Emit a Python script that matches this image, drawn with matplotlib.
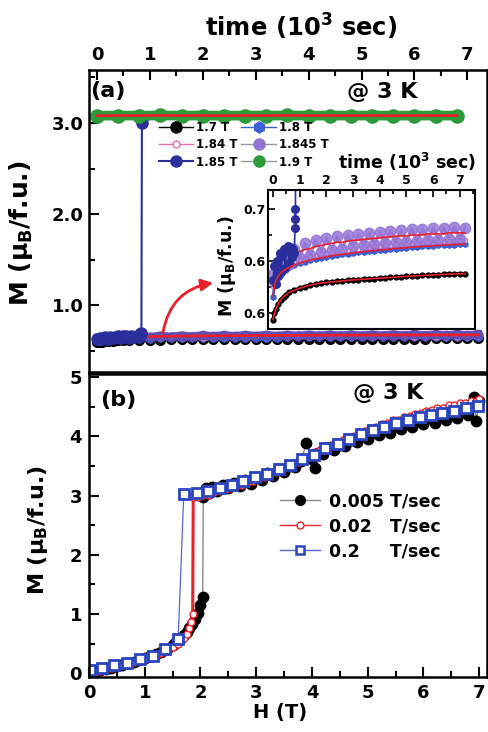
import matplotlib.pyplot as plt
from matplotlib.ticker import MultipleLocator, FormatStrFormatter
from matplotlib.lines import Line2D

plt.rcParams['font.family'] = ['DejaVu Sans']
plt.rcParams['font.weight'] = 'bold'
plt.rcParams['axes.labelweight'] = 'bold'
plt.rcParams['mathtext.default'] = 'bf'

# ---- panel (a): M vs time at fixed fields (time in 10^3 s) ----
t_long = [0, 0.05, 0.1, 0.2, 0.3, 0.4, 0.5, 0.6, 0.8, 1.0, 1.2, 1.4, 1.6, 1.8, 2.0,
          2.2, 2.4, 2.6, 2.8, 3.0, 3.2, 3.4, 3.6, 3.8, 4.0, 4.2, 4.4, 4.6, 4.8, 5.0,
          5.2, 5.4, 5.6, 5.8, 6.0, 6.2, 6.4, 6.6, 6.8, 7.0, 7.2]
m_17 = [0.594, 0.600, 0.604, 0.609, 0.613, 0.616, 0.618, 0.620, 0.622, 0.624, 0.6255,
        0.627, 0.628, 0.629, 0.6295, 0.630, 0.6305, 0.631, 0.6315, 0.632, 0.6323, 0.6326,
        0.633, 0.6333, 0.6336, 0.634, 0.6343, 0.6346, 0.635, 0.6353, 0.6356, 0.6359,
        0.6362, 0.6365, 0.6367, 0.637, 0.6372, 0.6374, 0.6376, 0.6378, 0.638]
m_18 = [0.616, 0.626, 0.631, 0.636, 0.639, 0.641, 0.6425, 0.644, 0.646, 0.648, 0.6495,
        0.651, 0.652, 0.653, 0.654, 0.655, 0.6557, 0.6564, 0.657, 0.6577, 0.6583, 0.659,
        0.6595, 0.660, 0.6605, 0.661, 0.6615, 0.662, 0.6624, 0.6628, 0.6632, 0.6636,
        0.664, 0.6643, 0.6646, 0.6649, 0.6652, 0.6655, 0.6658, 0.666, 0.6662]
m_184 = [0.626, 0.633, 0.636, 0.640, 0.643, 0.645, 0.647, 0.648, 0.650, 0.652, 0.653,
         0.655, 0.656, 0.657, 0.658, 0.659, 0.6595, 0.660, 0.661, 0.6615, 0.662, 0.663,
         0.6635, 0.664, 0.6645, 0.665, 0.6655, 0.666, 0.6664, 0.6668, 0.6672, 0.6676,
         0.668, 0.6683, 0.6686, 0.6689, 0.6692, 0.6695, 0.6698, 0.670, 0.6702]
m_1845 = [0.638, 0.631, 0.646, 0.638, 0.653, 0.643, 0.657, 0.647, 0.662, 0.653, 0.667,
          0.656, 0.670, 0.659, 0.672, 0.661, 0.674, 0.662, 0.675, 0.664, 0.676, 0.665,
          0.677, 0.666, 0.678, 0.667, 0.679, 0.668, 0.680, 0.668, 0.681, 0.669, 0.681,
          0.670, 0.682, 0.670, 0.682, 0.671, 0.683, 0.671, 0.682]
t_fit = [1.0, 1.2, 1.4, 1.6, 1.8, 2.0, 2.2, 2.4, 2.6, 2.8, 3.0, 3.2, 3.4, 3.6, 3.8, 4.0,
         4.2, 4.4, 4.6, 4.8, 5.0, 5.2, 5.4, 5.6, 5.8, 6.0, 6.2, 6.4, 6.6, 6.8, 7.0, 7.2]
fit_1845 = [0.659, 0.661, 0.662, 0.664, 0.665, 0.666, 0.667, 0.668, 0.668, 0.669, 0.670,
            0.670, 0.671, 0.671, 0.672, 0.672, 0.673, 0.673, 0.674, 0.674, 0.674, 0.675,
            0.675, 0.675, 0.676, 0.676, 0.676, 0.676, 0.677, 0.677, 0.677, 0.677]
t_185 = [0, 0.05, 0.1, 0.15, 0.2, 0.25, 0.3, 0.35, 0.4, 0.45, 0.5, 0.55, 0.6, 0.65, 0.7,
         0.75, 0.8, 0.82, 0.83, 0.84, 0.85, 1.0, 1.5, 2.0, 2.5, 3.0, 3.5, 4.0, 4.5, 5.0,
         5.5, 6.0, 6.5, 6.8]
m_185 = [0.632, 0.645, 0.628, 0.650, 0.636, 0.658, 0.640, 0.655, 0.662, 0.643, 0.660,
         0.664, 0.648, 0.663, 0.654, 0.662, 0.658, 0.682, 0.700, 0.690, 3.00, 3.045, 3.05,
         3.05, 3.05, 3.05, 3.05, 3.05, 3.05, 3.05, 3.05, 3.05, 3.05, 3.05]
t_19 = [0, 0.4, 0.8, 1.2, 1.6, 2.0, 2.4, 2.8, 3.2, 3.6, 4.0, 4.4, 4.8, 5.2, 5.6, 6.0, 6.4, 6.8]
m_19 = [3.079, 3.081, 3.080, 3.082, 3.080, 3.081, 3.079, 3.081, 3.080, 3.082, 3.080,
        3.081, 3.080, 3.081, 3.079, 3.081, 3.080, 3.081]

# ---- panel (b): M vs H for three sweep rates ----
h_blk = [0.0, 0.1, 0.2, 0.3, 0.4, 0.5, 0.6, 0.7, 0.8, 0.9, 1.0, 1.1, 1.2, 1.3, 1.4, 1.5,
         1.55, 1.6, 1.65, 1.7, 1.75, 1.8, 1.85, 1.9, 1.95, 2.0, 2.04,
         2.05, 2.1, 2.15, 2.2, 2.3, 2.4, 2.5, 2.6, 2.7, 2.8, 2.9, 3.0, 3.1, 3.2, 3.3, 3.4,
         3.5, 3.6, 3.7, 3.8, 3.9, 4.0, 4.05, 4.1, 4.2, 4.3, 4.4, 4.5, 4.6, 4.7, 4.8, 4.9,
         5.0, 5.1, 5.2, 5.3, 5.4, 5.5, 5.6, 5.7, 5.8, 5.9, 6.0, 6.1, 6.2, 6.3, 6.4, 6.5,
         6.6, 6.7, 6.8, 6.9, 6.95, 7.0]
m_blk = [0.0, 0.03, 0.05, 0.08, 0.10, 0.12, 0.15, 0.18, 0.20, 0.23, 0.26, 0.29, 0.32,
         0.36, 0.41, 0.48, 0.52, 0.56, 0.60, 0.65, 0.70, 0.77, 0.84, 0.92, 1.02, 1.16, 1.29,
         2.98, 3.12, 3.05, 3.14, 3.08, 3.18, 3.12, 3.22, 3.16, 3.27, 3.20, 3.32, 3.26, 3.38,
         3.33, 3.44, 3.40, 3.50, 3.48, 3.58, 3.88, 3.62, 3.46, 3.72, 3.70, 3.80, 3.76, 3.86,
         3.84, 3.93, 3.90, 4.00, 3.96, 4.08, 4.02, 4.12, 4.06, 4.18, 4.12, 4.22, 4.16, 4.26,
         4.20, 4.30, 4.22, 4.34, 4.28, 4.40, 4.30, 4.46, 4.36, 4.66, 4.26, 4.60]
h_red = [0.0, 0.1, 0.2, 0.3, 0.4, 0.5, 0.6, 0.7, 0.8, 0.9, 1.0, 1.1, 1.2, 1.3, 1.4, 1.5,
         1.6, 1.65, 1.7, 1.75, 1.8, 1.83, 1.86,
         1.87, 1.95, 2.05, 2.15, 2.25, 2.35, 2.45, 2.55, 2.65, 2.75, 2.85, 2.95, 3.05, 3.15,
         3.25, 3.35, 3.45, 3.55, 3.65, 3.75, 3.85, 3.95, 4.05, 4.15, 4.25, 4.35, 4.45, 4.55,
         4.65, 4.75, 4.85, 4.95, 5.05, 5.15, 5.25, 5.35, 5.45, 5.55, 5.65, 5.75, 5.85, 5.95,
         6.05, 6.15, 6.25, 6.35, 6.45, 6.55, 6.65, 6.75, 6.85, 6.95, 7.0]
m_red = [0.0, 0.02, 0.04, 0.07, 0.09, 0.12, 0.14, 0.17, 0.19, 0.22, 0.24, 0.27, 0.30,
         0.34, 0.38, 0.44, 0.50, 0.54, 0.60, 0.67, 0.76, 0.86, 1.00,
         2.97, 2.98, 3.01, 3.01, 3.06, 3.07, 3.11, 3.12, 3.17, 3.18, 3.23, 3.25, 3.30, 3.32,
         3.38, 3.40, 3.46, 3.48, 3.54, 3.57, 3.64, 3.67, 3.74, 3.77, 3.83, 3.85, 3.91, 3.93,
         3.99, 4.01, 4.07, 4.09, 4.14, 4.15, 4.21, 4.22, 4.27, 4.28, 4.33, 4.34, 4.38, 4.39,
         4.43, 4.44, 4.48, 4.48, 4.52, 4.52, 4.56, 4.56, 4.60, 4.60, 4.62]
h_blu = [0.02, 0.23, 0.45, 0.68, 0.91, 1.14, 1.36, 1.60, 1.70, 1.93, 2.14, 2.35, 2.56,
         2.77, 2.98, 3.19, 3.40, 3.61, 3.82, 4.03, 4.24, 4.46, 4.67, 4.88, 5.09, 5.30, 5.51,
         5.72, 5.93, 6.14, 6.34, 6.55, 6.76, 6.97]
m_blu = [0.05, 0.09, 0.14, 0.18, 0.24, 0.30, 0.42, 0.58, 3.02, 3.04, 3.08, 3.12, 3.18,
         3.24, 3.31, 3.37, 3.44, 3.51, 3.61, 3.68, 3.80, 3.87, 3.95, 4.04, 4.10, 4.16, 4.22,
         4.27, 4.32, 4.36, 4.39, 4.43, 4.47, 4.51]
rate_labels = ['0.005 T/sec', '0.02   T/sec', '0.2     T/sec']

C18, C184, C1845, C185, C19 = '#3a5fd6', '#e070b0', '#9474d6', '#2b2f9c', '#2e9b3a'
CFIT = '#e8202a'
CRED, CBLU = '#e8242a', '#2a44c0'
ylab = 'M (μ$_B$/f.u.)'

fig = plt.figure(figsize=(4.88, 7.32), dpi=100)


def box(l, t, r, b):
    return [l / 488, 1 - b / 732, (r - l) / 488, (b - t) / 732]


axA = fig.add_axes(box(89, 70, 487, 372))
axB = fig.add_axes(box(89, 374, 487, 677))
axI = fig.add_axes(box(268, 190, 475, 329))

# main panel (a)
jump = list(range(21))  # markers only up to the jump of the 1.85 T curve
axA.plot(t_long, m_17, '-o', color='k', ms=7, lw=1)
axA.plot(t_long, m_18, '-h', color=C18, ms=7, lw=1)
axA.plot(t_long, m_184, '-o', color=C184, mfc='white', ms=5, lw=1)
axA.plot(t_long, m_1845, '-o', color='#6455bb', mec='#5a48b0', ms=6, lw=6)
axA.plot(t_185, m_185, '-o', color=C185, ms=8, lw=1.5, markevery=jump)
axA.plot(t_19, m_19, '-o', color=C19, ms=9.5, lw=7)
axA.plot(t_fit, fit_1845, color=CFIT, lw=2)
axA.plot(t_19, m_19, color=CFIT, lw=2)

axA.set_xlim(-0.15, 7.37)
axA.set_ylim(0.27, 3.58)
axA.xaxis.tick_top()
axA.xaxis.set_label_position('top')
axA.set_xlabel('time (10$^3$ sec)', fontsize=17.5)
axA.xaxis.set_label_coords(0.533, 1.11)
axA.set_ylabel(ylab, fontsize=18)
axA.yaxis.set_label_coords(-0.135, 0.46)
axA.xaxis.set_major_locator(MultipleLocator(1))
axA.xaxis.set_minor_locator(MultipleLocator(0.5))
axA.set_yticks([1.0, 2.0, 3.0])
axA.yaxis.set_minor_locator(MultipleLocator(0.5))
axA.yaxis.set_major_formatter(FormatStrFormatter('%.1f'))
axA.tick_params(which='both', direction='in', top=True, bottom=False, right=False,
                labeltop=True, labelbottom=False, labelsize=13, width=1.5, pad=4)
axA.tick_params(which='major', length=7)
axA.tick_params(which='minor', length=4)
axA.text(0.003, 0.93, '(a)', transform=axA.transAxes, fontsize=16, va='center')
axA.text(0.648, 0.927, '@ 3 K', transform=axA.transAxes, fontsize=16, va='center')

handles = [
    Line2D([], [], color='k', marker='o', ms=8, lw=1, label='1.7 T'),
    Line2D([], [], color=C184, marker='o', mfc='white', ms=5, lw=1, label='1.84 T'),
    Line2D([], [], color=C185, marker='o', ms=8, lw=1.5, label='1.85 T'),
    Line2D([], [], color=C18, marker='h', ms=8, lw=1, label='1.8 T'),
    Line2D([], [], color='#999999', marker='o', mfc=C1845, mec=C1845, ms=8, lw=1,
           label='1.845 T'),
    Line2D([], [], color='#999999', marker='o', mfc=C19, mec=C19, ms=8, lw=1, label='1.9 T'),
]
axA.legend(handles=handles, ncol=2, loc='upper left', bbox_to_anchor=(0.175, 0.83),
           frameon=False, fontsize=8.5, handlelength=2.9, handletextpad=0.3,
           columnspacing=0.3, labelspacing=0.35, borderpad=0, borderaxespad=0)

axA.annotate('', xy=(0.312, 0.295), xytext=(0.186, 0.132), xycoords='axes fraction',
             arrowprops=dict(arrowstyle='-|>,head_length=0.7,head_width=0.35',
                             color=CFIT, lw=2, shrinkA=0, shrinkB=0,
                             connectionstyle='arc3,rad=-0.35'))

# inset
axI.plot(t_long, m_17, '-o', color='k', ms=3.5, lw=2.5)
axI.plot(t_long, m_18, '-h', color=C18, ms=4, lw=2)
axI.plot(t_long, m_184, 'o', color=C184, mfc='white', ms=3)
axI.plot(t_long, m_1845, '-o', color=C1845, ms=7.5, lw=2, alpha=0.85)
axI.plot(t_185, m_185, '-o', color=C185, ms=5.5, lw=1.2)
axI.plot(t_long, m_17, color=CFIT, lw=1.2)
axI.plot(t_long, m_18, color=CFIT, lw=1.2)
axI.plot(t_fit, fit_1845, color=CFIT, lw=1.2)
axI.set_xlim(-0.19, 7.57)
axI.set_ylim(0.585, 0.718)
axI.xaxis.tick_top()
axI.xaxis.set_label_position('top')
axI.set_xlabel('time (10$^3$ sec)', fontsize=12.5)
axI.xaxis.set_label_coords(0.67, 1.15)
axI.set_ylabel(ylab, fontsize=12.5)
axI.yaxis.set_label_coords(-0.145, 0.45)
axI.xaxis.set_major_locator(MultipleLocator(1))
axI.xaxis.set_minor_locator(MultipleLocator(0.5))
axI.set_yticks([0.60, 0.65, 0.70])
axI.set_yticklabels(['0.6', '0.6', '0.7'])
axI.yaxis.set_minor_locator(MultipleLocator(0.025))
axI.tick_params(which='both', direction='in', top=True, bottom=False, labeltop=True,
                labelbottom=False, labelsize=9, width=1.2, pad=2)
axI.tick_params(which='major', length=5)
axI.tick_params(which='minor', length=3)

# panel (b)
axB.plot(h_blk, m_blk, marker='o', color='#8a8a8a', mfc='k', mec='k', ms=7.5, lw=1)
axB.plot(h_red, m_red, marker='o', color=CRED, mfc='white', mec=CRED, ms=5, mew=1, lw=2.2)
axB.plot(h_blu, m_blu, marker='s', color='#5566d0', mfc='white', mec=CBLU, ms=7,
         mew=2, lw=0.9)
axB.set_xlim(0, 7.14)
axB.set_ylim(-0.06, 5.05)
axB.set_xlabel('H (T)', fontsize=14)
axB.xaxis.set_label_coords(0.48, -0.085)
axB.set_ylabel(ylab, fontsize=16)
axB.yaxis.set_label_coords(-0.098, 0.485)
axB.xaxis.set_major_locator(MultipleLocator(1))
axB.xaxis.set_minor_locator(MultipleLocator(0.5))
axB.yaxis.set_major_locator(MultipleLocator(1))
axB.yaxis.set_minor_locator(MultipleLocator(0.5))
axB.tick_params(which='both', direction='in', labelsize=13, width=1.5, pad=5)
axB.tick_params(which='major', length=7)
axB.tick_params(which='minor', length=4)
axB.text(0.028, 0.914, '(b)', transform=axB.transAxes, fontsize=16, va='center')
axB.text(0.663, 0.937, '@ 3 K', transform=axB.transAxes, fontsize=16, va='center')
hb = [
    Line2D([], [], color='#8a8a8a', marker='o', mfc='k', mec='k', ms=7, lw=1),
    Line2D([], [], color=CRED, marker='o', mfc='white', mec=CRED, ms=5, lw=1),
    Line2D([], [], color='#5566d0', marker='s', mfc='white', mec=CBLU, ms=6, mew=1.8, lw=1),
]
axB.legend(hb, rate_labels, loc='upper left', bbox_to_anchor=(0.48, 0.61), frameon=False,
           fontsize=12.5, handlelength=2.3, handletextpad=0.5, labelspacing=0.4,
           borderpad=0, borderaxespad=0)

for ax in (axA, axB, axI):
    for s in ax.spines.values():
        s.set_linewidth(1.8 if ax is not axI else 1.5)

fig.savefig('out.png', dpi=100)
